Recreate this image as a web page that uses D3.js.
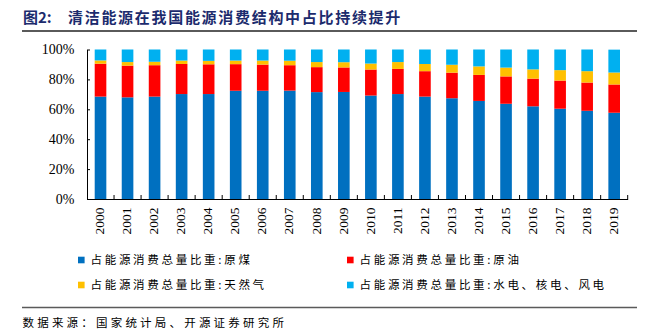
<!DOCTYPE html>
<html>
<head>
<meta charset="utf-8">
<script src="https://d3js.org/d3.v7.min.js"></script>
<style>
  body { margin: 0; background: #fff; }
  svg { display: block; }
  .cjk { font-family: "Noto Sans CJK SC", sans-serif; }
  .axis text { font-family: "Liberation Serif", "DejaVu Serif", serif; fill: #000; }
</style>
</head>
<body>
<svg id="chart" width="654" height="334"></svg>
<script>
// share of total energy consumption, %
const years = ["2000","2001","2002","2003","2004","2005","2006","2007","2008","2009",
               "2010","2011","2012","2013","2014","2015","2016","2017","2018","2019"];
const coal  = [68.5, 68.0, 68.5, 70.2, 70.2, 72.4, 72.4, 72.5, 71.5, 71.6,
               69.2, 70.2, 68.5, 67.4, 65.6, 63.7, 62.0, 60.4, 59.0, 57.7];
const oil   = [22.0, 21.2, 21.0, 20.1, 19.9, 17.8, 17.5, 17.0, 16.7, 16.4,
               17.4, 16.8, 17.0, 17.1, 17.4, 18.3, 18.5, 18.8, 18.9, 18.9];
const gas   = [2.2, 2.4, 2.3, 2.3, 2.3, 2.4, 2.7, 3.0, 3.4, 3.5,
               4.0, 4.6, 4.8, 5.3, 5.7, 5.9, 6.2, 7.0, 7.6, 8.0];
const clean = [7.3, 8.4, 8.2, 7.4, 7.6, 7.4, 7.4, 7.5, 8.4, 8.5,
               9.4, 8.4, 9.7, 10.2, 11.3, 12.1, 13.3, 13.8, 14.5, 15.3];

const seriesNames = ["占能源消费总量比重:原煤", "占能源消费总量比重:原油",
                     "占能源消费总量比重:天然气", "占能源消费总量比重:水电、核电、风电"];
const seriesColors = ["#0070C0", "#FF0000", "#FFC000", "#00B0F0"];
const yTicks = [0, 0.2, 0.4, 0.6, 0.8, 1];

const keys = ["coal", "oil", "gas", "clean"];
const rows = years.map(function(y, i) {
  return { year: y, coal: coal[i] / 100, oil: oil[i] / 100, gas: gas[i] / 100, clean: clean[i] / 100 };
});

const svg = d3.select("#chart");

// title + rule
svg.append("text").attr("class", "cjk")
  .attr("x", 23).attr("y", 23)
  .attr("font-size", 15).attr("font-weight", "bold").attr("fill", "#1c2b6d")
  .text("图2:");
svg.append("text").attr("class", "cjk")
  .attr("x", 68).attr("y", 23)
  .attr("font-size", 15).attr("font-weight", "bold").attr("fill", "#1c2b6d")
  .attr("letter-spacing", 1.7)
  .text("清洁能源在我国能源消费结构中占比持续提升");
svg.append("line")
  .attr("x1", 22).attr("x2", 637).attr("y1", 31).attr("y2", 31)
  .attr("stroke", "#5a5a5a").attr("stroke-width", 2);

const x = d3.scaleBand().domain(years).range([87, 627.7]);
const y = d3.scaleLinear().domain([0, 1]).range([199, 49.5]);
const barW = x.bandwidth() * 0.43;

const stacked = d3.stack().keys(keys)(rows);

svg.append("g").selectAll("g")
  .data(stacked)
  .enter().append("g")
    .attr("fill", function(d, i) { return seriesColors[i]; })
  .selectAll("rect")
  .data(function(d) { return d; })
  .enter().append("rect")
    .attr("x", function(d) { return x(d.data.year) + (x.bandwidth() - barW) / 2; })
    .attr("y", function(d) { return y(Math.min(d[1], 1)); })
    .attr("width", barW)
    .attr("height", function(d) { return y(d[0]) - y(Math.min(d[1], 1)); });

// y axis, ticks pointing inward
svg.append("g")
  .attr("class", "axis")
  .attr("transform", "translate(87,0)")
  .call(d3.axisLeft(y).tickValues(yTicks).tickFormat(d3.format(".0%"))
    .tickSize(-3).tickSizeOuter(0).tickPadding(12.7))
  .call(function(g) {
    g.selectAll("text").attr("font-size", 14);
    g.selectAll("line, path").attr("stroke", "#000");
  });

// x axis with rotated year labels
const xAxis = svg.append("g")
  .attr("class", "axis")
  .attr("transform", "translate(0,199)")
  .call(d3.axisBottom(x).tickSize(0).tickSizeOuter(0));
xAxis.select("path").attr("stroke", "#000");
xAxis.selectAll("text")
  .attr("font-size", 13.5)
  .attr("transform", "rotate(-90)")
  .attr("x", -8.5).attr("y", -1).attr("dy", "0.35em")
  .style("text-anchor", "end");

// category boundary ticks
const bounds = years.slice(1).map(function(yr) { return x(yr); }).concat([x.range()[1]]);
xAxis.selectAll(".bound")
  .data(bounds)
  .enter().append("line")
    .attr("class", "bound")
    .attr("x1", function(d) { return d; }).attr("x2", function(d) { return d; })
    .attr("y1", 0).attr("y2", -4)
    .attr("stroke", "#000");

// legend
const legendPos = [[78, 260], [347, 260], [78, 285], [347, 285]];
const legend = svg.append("g").selectAll("g")
  .data(seriesNames)
  .enter().append("g")
    .attr("transform", function(d, i) { return "translate(" + legendPos[i][0] + "," + legendPos[i][1] + ")"; });
legend.append("rect")
  .attr("x", 0).attr("y", -3.3).attr("width", 6.6).attr("height", 6.6)
  .attr("fill", function(d, i) { return seriesColors[i]; });
legend.append("text")
  .attr("class", "cjk")
  .attr("x", 12.5).attr("y", 4)
  .attr("font-size", 11.5).attr("letter-spacing", 2.7)
  .text(function(d) { return d; });

// source note
svg.append("line")
  .attr("x1", 22).attr("x2", 637).attr("y1", 307.5).attr("y2", 307.5)
  .attr("stroke", "#5a5a5a").attr("stroke-width", 1.5);
svg.append("text").attr("class", "cjk")
  .attr("x", 22.5).attr("y", 327)
  .attr("font-size", 11.5).attr("letter-spacing", 3.2)
  .text("数据来源：国家统计局、开源证券研究所");
</script>
</body>
</html>
